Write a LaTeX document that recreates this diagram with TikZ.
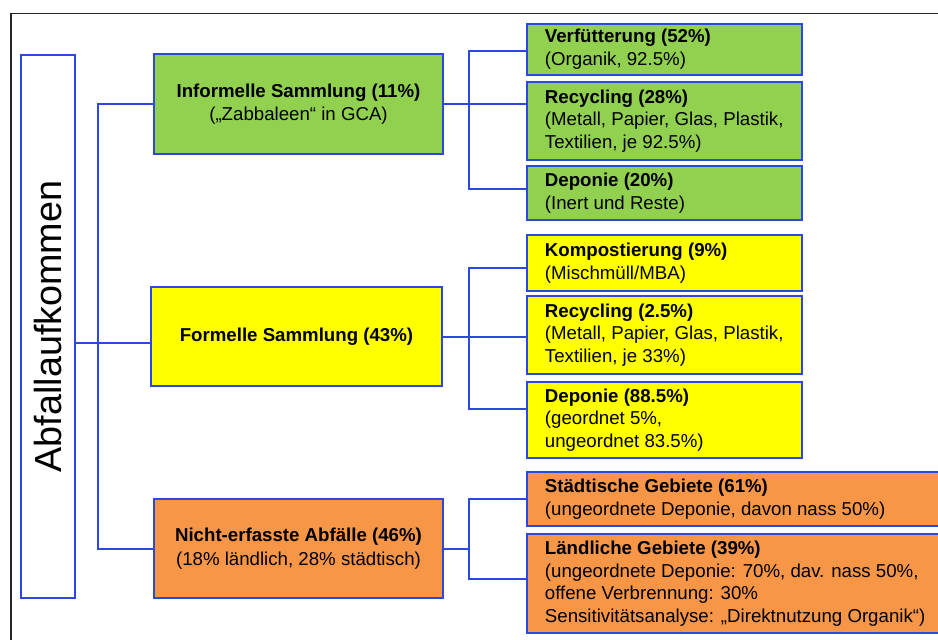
\documentclass[tikz,border=0pt]{standalone}
\usepackage{fontspec}
\setmainfont{Liberation Sans}
\definecolor{edgeblue}{RGB}{44,72,224}
\definecolor{boxgreen}{RGB}{146,208,80}
\definecolor{boxyellow}{RGB}{255,255,0}
\definecolor{boxorange}{RGB}{247,150,70}
\begin{document}
\begin{tikzpicture}[x=0.75pt,y=-0.75pt,
  box/.style={draw=edgeblue, line width=2pt, inner sep=0pt, text=black},
  midtext/.style={align=center, font=\fontsize{14}{17.5}\selectfont},
  kidtext/.style={anchor=west, align=left, inner sep=0pt, text=black,
                  font=\fontsize{14}{17}\selectfont},
  conn/.style={draw=edgeblue, line width=2pt}]
\useasboundingbox (0,0) rectangle (938,639);
\clip (0,0) rectangle (938,639);

% outer frame
\draw[line width=1.2pt, black!85] (11,660) -- (11,13.5) -- (960,13.5);

% root
\node[box, minimum width=40.5pt, minimum height=407.25pt] (abf) at (48,326.5) {};
\node[rotate=90, inner sep=0pt, font=\fontsize{28.3}{34}\selectfont] (abftext) at (abf.center) {Abfallaufkommen};

% collection routes
\node[box, midtext, fill=boxgreen, minimum width=216.75pt, minimum height=75pt] (inf) at (298.5,104)
  {\textbf{Informelle Sammlung (11\%)}\\(„Zabbaleen“ in GCA)};
\node[box, midtext, fill=boxyellow, minimum width=218.25pt, minimum height=74.25pt] (form) at (296.5,336.5)
  {\textbf{Formelle Sammlung (43\%)}};
\node[box, midtext, fill=boxorange, minimum width=216.75pt, minimum height=74.25pt] (nicht) at (298.5,548.5)
  {\textbf{Nicht-erfasste Abfälle (46\%)}\\(18\% ländlich, 28\% städtisch)};

% treatment paths: green
\node[box, fill=boxgreen, minimum width=206.25pt, minimum height=38.25pt] (verf) at (664.5,49.5) {};
\node[box, fill=boxgreen, minimum width=206.25pt, minimum height=58.5pt] (rec1) at (664.5,121) {};
\node[box, fill=boxgreen, minimum width=206.25pt, minimum height=40.5pt] (dep1) at (664.5,193) {};
% yellow
\node[box, fill=boxyellow, minimum width=206.25pt, minimum height=42pt] (komp) at (664.5,263) {};
\node[box, fill=boxyellow, minimum width=206.25pt, minimum height=58.5pt] (rec2) at (664.5,335) {};
\node[box, fill=boxyellow, minimum width=206.25pt, minimum height=57pt] (dep2) at (664.5,420) {};
% orange
\node[box, fill=boxorange, minimum width=324.75pt, minimum height=40.5pt] (stadt) at (743.5,499) {};
\node[box, fill=boxorange, minimum width=324.75pt, minimum height=74.25pt] (land) at (743.5,583.5) {};

\node[kidtext] (verft) at ([xshift=14.25pt]verf.west)
  {\textbf{Verfütterung (52\%)}\\(Organik, 92.5\%)};
\node[kidtext] (rec1t) at ([xshift=14.25pt]rec1.west)
  {\textbf{Recycling (28\%)}\\(Metall, Papier, Glas, Plastik,\\Textilien, je 92.5\%)};
\node[kidtext] (dep1t) at ([xshift=14.25pt]dep1.west)
  {\textbf{Deponie (20\%)}\\(Inert und Reste)};
\node[kidtext] (kompt) at ([xshift=14.25pt]komp.west)
  {\textbf{Kompostierung (9\%)}\\(Mischmüll/MBA)};
\node[kidtext] (rec2t) at ([xshift=14.25pt]rec2.west)
  {\textbf{Recycling (2.5\%)}\\(Metall, Papier, Glas, Plastik,\\Textilien, je 33\%)};
\node[kidtext] (dep2t) at ([xshift=14.25pt]dep2.west)
  {\textbf{Deponie (88.5\%)}\\(geordnet 5\%,\\ungeordnet 83.5\%)};
\node[kidtext] (stadtt) at ([xshift=14.25pt]stadt.west)
  {\textbf{Städtische Gebiete (61\%)}\\(ungeordnete Deponie, davon nass 50\%)};
\node[kidtext] (landt) at ([xshift=14.25pt]land.west)
  {\textbf{Ländliche Gebiete (39\%)}\\(ungeordnete Deponie: 70\%, dav. nass 50\%,\\offene Verbrennung: 30\%\\Sensitivitätsanalyse: „Direktnutzung Organik“)};

% junction points
\coordinate (j0) at (98,343);
\coordinate (j1) at (469,104);
\coordinate (j2) at (469,337);
\coordinate (j3) at (469,549);

% root to collection routes
\draw[conn] (abf.east |- j0) -- (form.west |- j0);
\draw[conn] (inf.west) -| (j0) |- (nicht.west |- j3);

% collection routes to treatment paths
\draw[conn] (inf.east |- j1) -- (j1);
\draw[conn] (verf.west |- 0,51) -| (j1) |- (dep1.west |- 0,189);
\draw[conn] (rec1.west |- j1) -- (j1);

\draw[conn] (form.east |- j2) -- (j2);
\draw[conn] (komp.west |- 0,268) -| (j2) |- (dep2.west |- 0,409);
\draw[conn] (rec2.west |- j2) -- (j2);

\draw[conn] (nicht.east |- j3) -- (j3);
\draw[conn] (stadt.west |- 0,499) -| (j3) |- (land.west |- 0,579);
\end{tikzpicture}
\end{document}
